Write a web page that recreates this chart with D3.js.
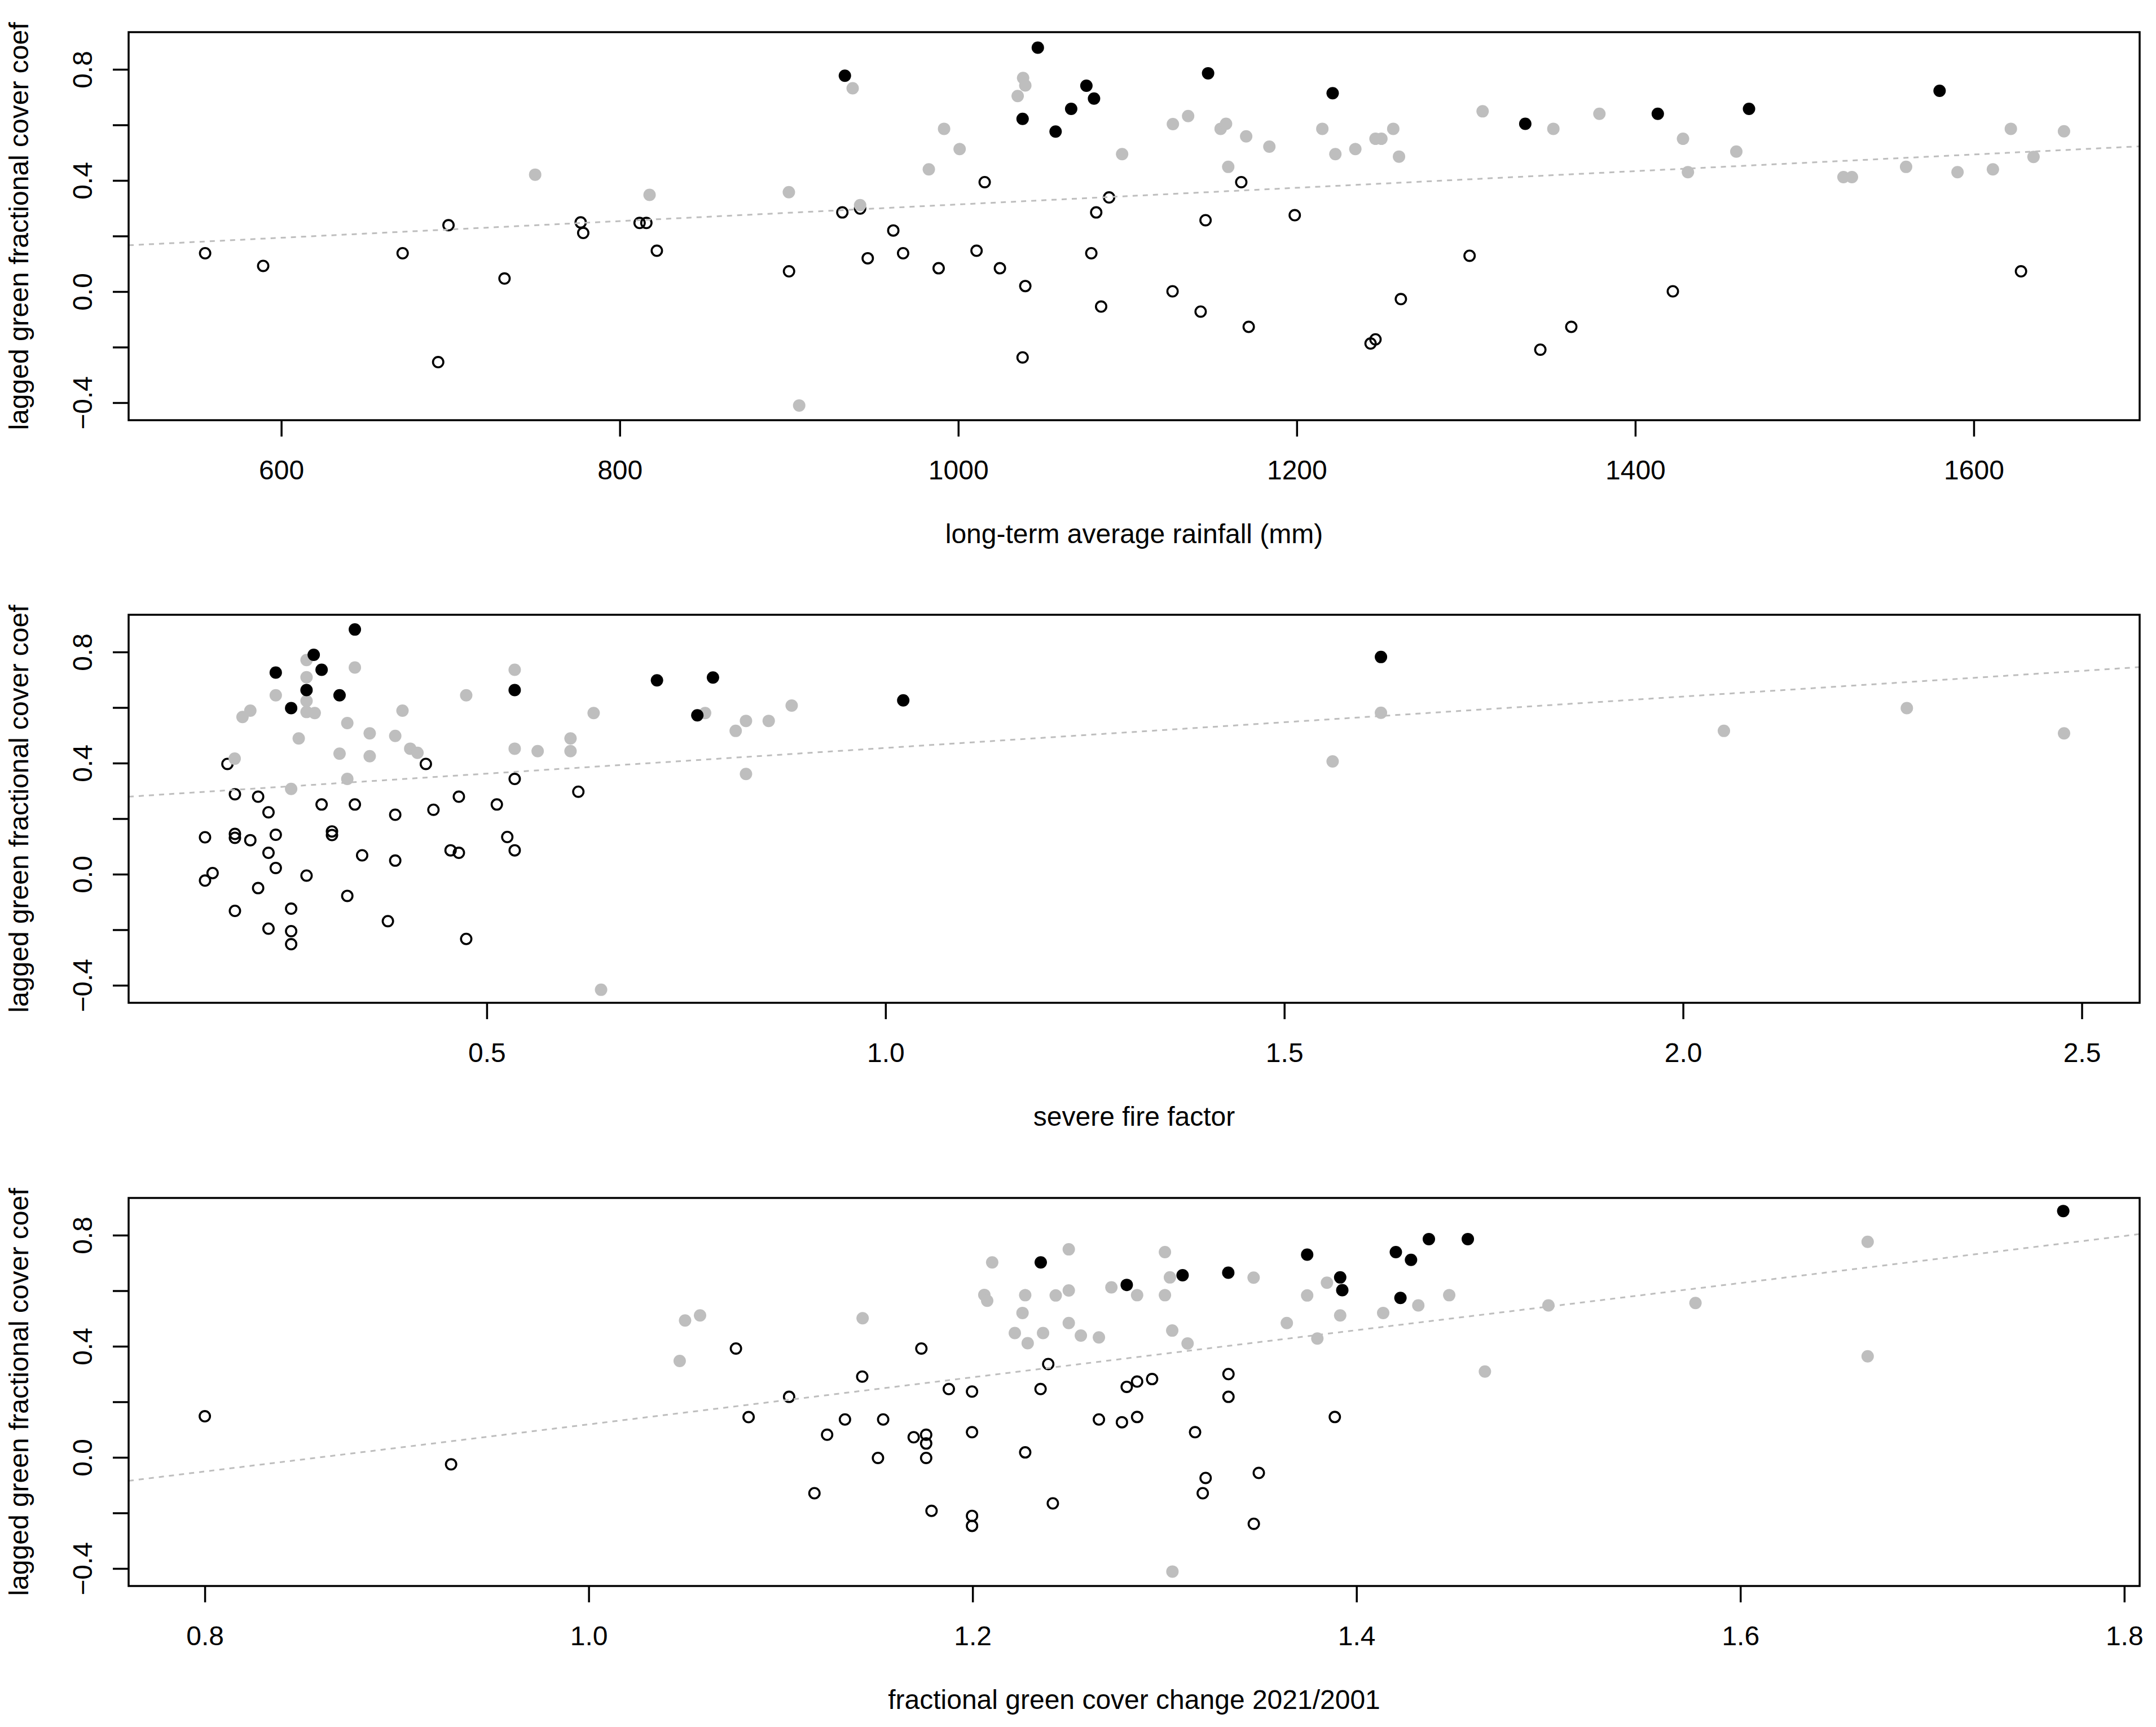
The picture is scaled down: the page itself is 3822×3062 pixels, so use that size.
<!DOCTYPE html>
<meta charset="utf-8">
<script src="https://d3js.org/d3.v7.min.js"></script>
<style>body{margin:0;background:#fff}</style>
<svg id="chart" width="3822" height="3062"></svg>
<script>

// shared y axis
const yLim = [-0.463, 0.934];
const yTicks = [-0.4, -0.2, 0, 0.2, 0.4, 0.6, 0.8];
const yLabelled = [-0.4, 0, 0.4, 0.8];
const yTitle = "lagged green fractional cover coef";

// panel 1: long-term average rainfall
const rainLim = [509.8, 1698];
const rainTicks = [600, 800, 1000, 1200, 1400, 1600];
const rainFit = [0.0139, 0.0002998];
const rainBlack = [[933,0.777],[1038,0.622],[1047,0.878],[1057.5,0.576],[1066.7,0.658],[1075.7,0.741],[1080.2,0.695],[1147.6,0.786],[1221.2,0.714],[1335,0.604],[1413.3,0.64],[1467.2,0.658],[1579.8,0.723]];
const rainGrey = [[750,0.421],[817.6,0.348],[899.9,0.358],[906,-0.41],[937.6,0.732],[942,0.311],[982.6,0.44],[991.6,0.586],[1000.8,0.513],[1035.1,0.704],[1038.3,0.769],[1039.6,0.742],[1096.8,0.495],[1126.8,0.603],[1135.8,0.632],[1155,0.586],[1158.2,0.604],[1159.5,0.449],[1170.1,0.559],[1183.8,0.522],[1215.1,0.586],[1222.8,0.495],[1234.6,0.513],[1246.5,0.55],[1250,0.55],[1257,0.586],[1260.4,0.486],[1309.8,0.649],[1351.6,0.586],[1378.8,0.64],[1428.2,0.55],[1431.1,0.43],[1459.7,0.504],[1523,0.412],[1528,0.412],[1560,0.449],[1590.4,0.43],[1611.3,0.44],[1621.9,0.586],[1635.3,0.485],[1653.3,0.577]];
const rainOpen = [[555,0.138],[589.3,0.0925],[671.7,0.138],[692.7,-0.254],[698.8,0.239],[731.9,0.047],[776.9,0.249],[778.4,0.211],[811.7,0.247],[815.7,0.247],[821.9,0.147],[900,0.073],[931.5,0.285],[942,0.299],[946.5,0.12],[961.6,0.22],[967.4,0.138],[988.4,0.084],[1010.8,0.147],[1015.6,0.394],[1024.6,0.084],[1038,-0.237],[1039.6,0.02],[1078.6,0.138],[1081.5,0.285],[1084.4,-0.054],[1089.1,0.339],[1126.6,0.001],[1143.2,-0.072],[1146.1,0.257],[1167.2,0.394],[1171.6,-0.127],[1198.8,0.275],[1243.6,-0.187],[1246.5,-0.172],[1261.5,-0.027],[1302.1,0.129],[1343.9,-0.209],[1362.2,-0.127],[1422.2,0.001],[1627.9,0.073]];

// panel 2: severe fire factor
const fireLim = [0.0509, 2.5725];
const fireTicks = [0.5, 1.0, 1.5, 2.0, 2.5];
const fireFit = [0.2696, 0.185];
const fireBlack = [[0.2354,0.726],[0.2547,0.598],[0.274,0.663],[0.283,0.79],[0.2929,0.736],[0.3154,0.644],[0.3346,0.881],[0.535,0.663],[0.7134,0.698],[0.764,0.572],[0.7836,0.708],[1.0222,0.626],[1.6212,0.782]];
const fireGrey = [[0.1839,0.416],[0.1937,0.566],[0.2035,0.589],[0.2354,0.644],[0.2547,0.307],[0.2642,0.489],[0.274,0.771],[0.274,0.709],[0.274,0.624],[0.274,0.584],[0.2843,0.58],[0.3154,0.434],[0.3251,0.544],[0.3251,0.343],[0.3346,0.744],[0.3532,0.507],[0.3532,0.425],[0.3852,0.498],[0.3943,0.589],[0.404,0.452],[0.4131,0.437],[0.4742,0.644],[0.535,0.736],[0.535,0.452],[0.5638,0.443],[0.605,0.489],[0.605,0.443],[0.634,0.58],[0.6433,-0.416],[0.7738,0.58],[0.8121,0.516],[0.825,0.552],[0.825,0.361],[0.8535,0.552],[0.8823,0.607],[1.5606,0.406],[1.6212,0.581],[2.0512,0.516],[2.2806,0.598],[2.4777,0.507]];
const fireOpen = [[0.1467,0.133],[0.1467,-0.023],[0.1562,0.004],[0.1748,0.397],[0.1842,0.288],[0.1842,0.145],[0.1842,0.131],[0.1842,-0.132],[0.2035,0.1225],[0.2133,0.279],[0.2133,-0.05],[0.2263,0.223],[0.2263,0.077],[0.2263,-0.196],[0.2354,0.142],[0.2354,0.0225],[0.2547,-0.124],[0.2547,-0.205],[0.2547,-0.252],[0.274,-0.005],[0.2929,0.251],[0.3059,0.154],[0.3059,0.141],[0.3251,-0.078],[0.3346,0.251],[0.3437,0.068],[0.376,-0.169],[0.3852,0.214],[0.3852,0.049],[0.4236,0.397],[0.4331,0.232],[0.4546,0.086],[0.465,0.279],[0.465,0.077],[0.4742,-0.233],[0.5126,0.251],[0.5257,0.134],[0.535,0.343],[0.535,0.086],[0.6148,0.297]];

// panel 3: fractional green cover change
const changeLim = [0.7603, 1.808];
const changeTicks = [0.8, 1.0, 1.2, 1.4, 1.6, 1.8];
const changeFit = [-0.729, 0.8479];
const changeBlack = [[1.2355,0.702],[1.2803,0.621],[1.3094,0.656],[1.3332,0.665],[1.3743,0.73],[1.3915,0.648],[1.3926,0.602],[1.4205,0.739],[1.4229,0.574],[1.4284,0.711],[1.4377,0.786],[1.4580,0.786],[1.7682,0.887]];
const changeGrey = [[1.0474,0.347],[1.0502,0.493],[1.058,0.511],[1.1427,0.501],[1.2061,0.585],[1.2076,0.564],[1.2102,0.702],[1.222,0.4475],[1.226,0.52],[1.2274,0.584],[1.2287,0.411],[1.2367,0.4475],[1.2433,0.583],[1.2501,0.749],[1.2501,0.601],[1.2501,0.4836],[1.2564,0.4385],[1.2658,0.432],[1.2723,0.612],[1.2857,0.584],[1.3002,0.739],[1.3002,0.584],[1.3028,0.648],[1.304,0.4566],[1.3041,-0.411],[1.312,0.41],[1.3464,0.647],[1.3637,0.4836],[1.3743,0.583],[1.3796,0.428],[1.3846,0.629],[1.3915,0.511],[1.4139,0.52],[1.4322,0.547],[1.4483,0.584],[1.4669,0.309],[1.5,0.547],[1.5766,0.556],[1.6663,0.776],[1.6663,0.364]];
const changeOpen = [[0.8,0.148],[0.9283,-0.025],[1.0767,0.392],[1.0833,0.145],[1.1044,0.218],[1.1176,-0.129],[1.1242,0.0815],[1.1335,0.1365],[1.1425,0.291],[1.1507,-0.002],[1.1534,0.1365],[1.1693,0.0726],[1.1733,0.392],[1.1758,0.0815],[1.1758,0.05],[1.1758,-0.002],[1.1786,-0.1925],[1.1876,0.246],[1.1997,0.237],[1.1997,0.0907],[1.1997,-0.2105],[1.1997,-0.2465],[1.2274,0.018],[1.2354,0.246],[1.2394,0.336],[1.2418,-0.1655],[1.2658,0.1365],[1.2778,0.1266],[1.2803,0.254],[1.2857,0.1454],[1.2857,0.273],[1.2935,0.282],[1.3159,0.0907],[1.3199,-0.129],[1.3214,-0.074],[1.3333,0.3],[1.3333,0.218],[1.3465,-0.239],[1.3491,-0.056],[1.3887,0.1454]];

const panels = [
    {lim: rainLim, ticks: rainTicks, fmt: d3.format("d"), fit: rainFit, black: rainBlack, grey: rainGrey, open: rainOpen, title: "long-term average rainfall (mm)"},
    {lim: fireLim, ticks: fireTicks, fmt: d3.format(".1f"), fit: fireFit, black: fireBlack, grey: fireGrey, open: fireOpen, title: "severe fire factor"},
    {lim: changeLim, ticks: changeTicks, fmt: d3.format(".1f"), fit: changeFit, black: changeBlack, grey: changeGrey, open: changeOpen, title: "fractional green cover change 2021/2001"}
];

const svg = d3.select("#chart");
const left = 228, right = 3793, boxH = 688;
const tops = [57, 1090, 2124];
const font = "'Liberation Sans', Arial, sans-serif";
const grey = "#bebebe";

panels.forEach((p, i) => {
    const top = tops[i], bottom = top + boxH;
    const x = d3.scaleLinear().domain(p.lim).range([left, right]);
    const y = d3.scaleLinear().domain(yLim).range([bottom, top]);
    const g = svg.append("g");

    // points: open first, then grey, then black on top
    g.append("g").selectAll("circle").data(p.open).join("circle")
        .attr("cx", d => x(d[0])).attr("cy", d => y(d[1])).attr("r", 9.2)
        .attr("fill", "none").attr("stroke", "#000").attr("stroke-width", 3.6);
    g.append("g").selectAll("circle").data(p.grey).join("circle")
        .attr("cx", d => x(d[0])).attr("cy", d => y(d[1])).attr("r", 11)
        .attr("fill", grey);
    g.append("g").selectAll("circle").data(p.black).join("circle")
        .attr("cx", d => x(d[0])).attr("cy", d => y(d[1])).attr("r", 11)
        .attr("fill", "#000");

    // fitted line across the plot region
    const [a, b] = p.fit;
    g.append("line")
        .attr("x1", x(p.lim[0])).attr("y1", y(a + b * p.lim[0]))
        .attr("x2", x(p.lim[1])).attr("y2", y(a + b * p.lim[1]))
        .attr("stroke", grey).attr("stroke-width", 3).attr("stroke-dasharray", "9 9");

    // box
    g.append("rect")
        .attr("x", left).attr("y", top).attr("width", right - left).attr("height", boxH)
        .attr("fill", "none").attr("stroke", "#000").attr("stroke-width", 3.5);

    // x axis
    const xa = g.append("g").attr("transform", `translate(0,${bottom})`)
        .call(d3.axisBottom(x).tickValues(p.ticks).tickFormat(p.fmt).tickSize(29).tickPadding(42));
    xa.select(".domain").remove();
    xa.selectAll(".tick line").attr("stroke-width", 3.5);
    xa.selectAll(".tick text").attr("font-family", font).attr("font-size", 48).attr("fill", "#000");

    // y axis, labels parallel to the axis
    const ya = g.append("g").attr("transform", `translate(${left},0)`)
        .call(d3.axisLeft(y).tickValues(yTicks).tickFormat(d => yLabelled.some(v => Math.abs(v - d) < 1e-9) ? d3.format(".1f")(d) : "").tickSize(28));
    ya.select(".domain").remove();
    ya.selectAll(".tick line").attr("stroke-width", 3.5);
    ya.selectAll(".tick text")
        .attr("transform", "rotate(-90)")
        .attr("x", 0).attr("y", -65).attr("dy", null)
        .attr("text-anchor", "middle")
        .attr("font-family", font).attr("font-size", 48).attr("fill", "#000");

    // titles
    g.append("text")
        .attr("x", (left + right) / 2).attr("y", bottom + 218)
        .attr("text-anchor", "middle")
        .attr("font-family", font).attr("font-size", 48)
        .text(p.title);
    g.append("text")
        .attr("transform", `translate(50,${(top + bottom) / 2}) rotate(-90)`)
        .attr("text-anchor", "middle")
        .attr("font-family", font).attr("font-size", 48)
        .text(yTitle);
});

</script>
